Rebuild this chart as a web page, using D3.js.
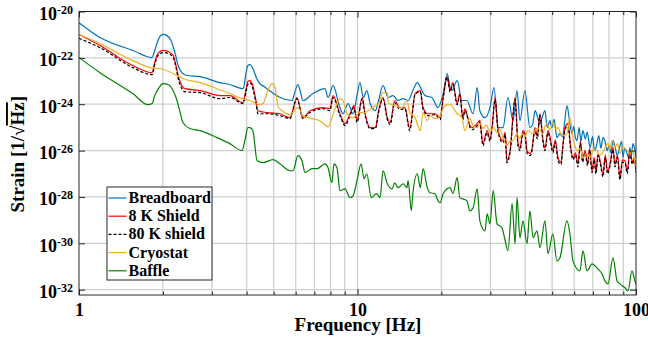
<!DOCTYPE html>
<html><head><meta charset="utf-8">
<script src="https://cdn.jsdelivr.net/npm/d3@7"></script>
<style>
html,body{margin:0;padding:0;background:#fff;}
svg{display:block;font-family:"Liberation Serif","Times New Roman",serif;font-weight:bold;}
</style></head><body>
<svg id="chart" width="648" height="343"></svg>
<script>
// Amplitude spectral densities: [frequency in Hz, log10 strain in 1/sqrt(Hz)]
const breadboard = [
  [1.00,-20.48],[1.19,-21.12],[1.56,-21.68],[1.83,-21.99],[1.86,-21.77],[1.91,-21.34],[1.95,-21.08],
  [2.00,-20.99],[2.07,-21.04],[2.14,-21.25],[2.21,-21.77],[2.27,-22.33],[2.34,-22.64],[2.44,-22.76],
  [2.72,-22.81],[3.21,-23.07],[3.48,-23.15],[3.88,-23.33],[3.91,-23.24],[3.98,-22.64],[4.04,-22.33],
  [4.11,-22.29],[4.21,-22.46],[4.32,-22.81],[4.43,-23.07],[4.62,-23.24],[4.73,-23.33],[5.27,-23.71],
  [5.82,-23.84],[5.95,-23.50],[6.11,-23.15],[6.22,-23.40],[6.37,-23.84],[6.92,-23.54],[7.64,-23.33],
  [7.84,-23.71],[8.17,-23.20],[8.65,-24.15],[8.87,-24.41],[9.25,-23.97],[9.64,-24.41],[9.96,-23.63],
  [10.2,-23.07],[10.5,-23.71],[10.8,-23.41],[11.1,-23.97],[11.6,-24.28],[11.9,-23.84],[12.35,-23.20],
  [12.9,-23.71],[13.4,-23.63],[14.0,-23.84],[14.6,-23.76],[15.2,-23.84],[15.8,-23.41],[16.4,-23.07],
  [17.05,-23.41],[17.5,-23.63],[18.5,-23.71],[19.45,-24.15],[20.3,-23.54],[21.0,-22.68],[21.5,-23.28],
  [21.8,-23.41],[22.8,-22.98],[23.7,-23.84],[24.7,-23.84],[26.0,-24.41],[26.9,-23.28],[27.5,-24.28],
  [28.7,-24.58],[29.9,-24.15],[30.9,-23.28],[32.0,-25.01],[33.3,-25.01],[34.7,-23.71],[36.2,-24.71],
  [37.4,-23.41],[38.3,-24.71],[39.9,-23.41],[41.6,-25.01],[42.5,-24.90],[43.4,-24.28],[44.2,-24.50],
  [45.2,-24.84],[46.0,-24.58],[47.1,-24.28],[48.0,-25.00],[49.1,-24.71],[49.9,-25.01],[50.8,-24.65],
  [52.0,-25.44],[53.3,-25.27],[54.5,-25.40],[55.4,-24.80],[56.5,-24.06],[57.9,-24.84],[58.9,-25.27],
  [59.8,-24.95],[60.5,-25.40],[61.4,-25.57],[62.5,-25.00],[63.4,-25.60],[64.5,-25.14],[65.8,-25.50],
  [66.8,-25.20],[68.4,-25.87],[69.8,-25.40],[71.0,-26.00],[72.4,-25.70],[73.5,-25.35],[74.8,-25.90],
  [76.1,-25.44],[77.4,-25.60],[78.7,-26.00],[80.0,-25.80],[81.3,-26.10],[82.7,-25.57],[84.0,-25.80],
  [85.6,-26.20],[87.6,-25.79],[88.8,-25.60],[89.8,-26.31],[91.0,-25.90],[92.9,-26.13],[94.0,-26.30],
  [95.1,-25.87],[96.3,-26.20],[97.5,-25.70],[98.8,-25.90],[100,-26.31]
];
const shield8K = [
  [1.00,-20.99],[1.19,-21.47],[1.56,-22.33],[1.83,-22.64],[1.87,-22.20],[1.92,-21.81],[2.00,-21.68],
  [2.09,-21.73],[2.18,-21.90],[2.23,-22.33],[2.27,-22.76],[2.32,-23.11],[2.40,-23.33],[2.72,-23.41],
  [3.21,-23.63],[3.48,-23.63],[3.88,-23.93],[3.98,-23.33],[4.04,-23.02],[4.11,-22.98],[4.21,-23.20],
  [4.32,-23.84],[4.39,-24.28],[4.73,-24.36],[5.27,-24.41],[5.72,-24.58],[6.06,-23.71],[6.37,-24.58],
  [6.75,-24.28],[7.52,-24.15],[7.96,-24.19],[8.17,-23.63],[8.65,-24.41],[9.02,-24.84],[9.40,-24.41],
  [9.71,-24.06],[9.96,-24.71],[10.4,-23.71],[10.6,-24.28],[11.1,-25.01],[11.6,-25.01],[11.9,-24.28],
  [12.35,-23.71],[12.8,-24.58],[13.1,-24.79],[13.6,-23.84],[14.2,-24.15],[14.8,-24.15],[15.4,-25.05],
  [16.1,-23.54],[16.8,-23.41],[17.2,-24.15],[17.9,-24.41],[19.0,-24.41],[19.8,-24.58],[20.3,-23.71],
  [21.0,-22.81],[21.5,-23.41],[22.0,-23.07],[22.8,-23.97],[23.3,-23.54],[23.9,-24.58],[24.3,-24.20],
  [24.9,-24.58],[25.3,-24.90],[25.8,-25.01],[26.9,-24.84],[27.5,-24.70],[28.2,-25.70],[29.2,-25.14],
  [29.9,-25.50],[30.4,-25.01],[31.2,-23.71],[32.0,-25.14],[33.3,-25.57],[33.9,-25.20],[34.4,-26.44],
  [35.3,-26.00],[36.8,-23.71],[37.7,-25.70],[38.3,-25.90],[39.3,-25.14],[40.0,-25.30],[40.6,-26.00],
  [41.6,-26.13],[42.2,-26.00],[43.4,-25.01],[44.2,-25.40],[45.2,-24.41],[46.4,-25.57],[47.1,-25.90],
  [48.3,-25.14],[49.1,-25.40],[50.3,-26.00],[51.3,-25.55],[52.5,-26.31],[53.8,-26.50],[54.7,-25.70],
  [55.6,-25.01],[57.0,-24.84],[58.2,-25.80],[59.4,-26.31],[60.6,-26.10],[61.9,-26.57],[63.2,-25.60],
  [64.3,-26.40],[65.6,-26.00],[67.0,-26.55],[68.2,-25.90],[69.5,-26.87],[70.8,-26.30],[71.8,-26.90],
  [73.1,-26.13],[74.5,-26.50],[76.1,-27.00],[77.6,-26.20],[79.0,-26.90],[80.7,-26.57],[82.7,-25.87],
  [84.0,-26.60],[85.8,-26.20],[87.6,-27.17],[89.4,-26.40],[91.3,-26.44],[93.0,-26.90],[95.1,-26.00],
  [97.0,-26.50],[98.5,-26.30],[100,-26.87]
];
const shield80K = [
  [1.00,-21.16],[1.19,-21.56],[1.56,-22.42],[1.83,-22.72],[1.87,-22.29],[1.92,-21.90],[2.00,-21.77],
  [2.09,-21.81],[2.18,-21.99],[2.23,-22.42],[2.27,-22.89],[2.32,-23.24],[2.40,-23.46],[2.72,-23.50],
  [3.21,-23.76],[3.48,-23.71],[3.88,-23.97],[3.98,-23.46],[4.04,-23.15],[4.11,-23.07],[4.21,-23.33],
  [4.32,-23.97],[4.39,-24.41],[4.73,-24.41],[5.27,-24.49],[5.72,-24.62],[6.06,-23.76],[6.37,-24.62],
  [6.75,-24.36],[7.52,-24.19],[7.96,-24.28],[8.17,-23.71],[8.65,-24.49],[9.02,-24.92],[9.40,-24.49],
  [9.71,-24.15],[9.96,-24.79],[10.4,-23.76],[10.6,-24.36],[11.1,-25.05],[11.6,-25.05],[11.9,-24.36],
  [12.35,-23.76],[12.8,-24.67],[13.1,-24.88],[13.6,-23.93],[14.2,-24.23],[14.8,-24.19],[15.4,-25.14],
  [16.1,-23.59],[16.8,-23.46],[17.2,-24.23],[17.9,-24.49],[19.0,-24.45],[19.8,-24.67],[20.3,-23.76],
  [21.0,-22.85],[21.5,-23.46],[22.0,-23.15],[22.8,-24.02],[23.3,-23.63],[23.9,-24.67],[24.3,-24.28],
  [24.9,-24.62],[25.3,-24.98],[25.8,-25.10],[26.9,-24.92],[27.5,-24.78],[28.2,-25.79],[29.2,-25.23],
  [29.9,-25.60],[30.4,-25.10],[31.2,-23.80],[32.0,-25.23],[33.3,-25.66],[33.9,-25.30],[34.4,-26.52],
  [35.3,-26.09],[36.8,-23.80],[37.7,-25.79],[38.3,-26.00],[39.3,-25.23],[40.0,-25.38],[40.6,-26.09],
  [41.6,-26.22],[42.2,-26.08],[43.4,-25.10],[44.2,-25.50],[45.2,-24.49],[46.4,-25.66],[47.1,-26.00],
  [48.3,-25.23],[49.1,-25.48],[50.3,-26.09],[51.3,-25.64],[52.5,-26.44],[53.8,-26.60],[54.7,-25.78],
  [55.6,-25.10],[57.0,-24.92],[58.2,-25.90],[59.4,-26.39],[60.6,-26.20],[61.9,-26.70],[63.2,-25.68],
  [64.3,-26.50],[65.6,-26.09],[67.0,-26.65],[68.2,-25.98],[69.5,-26.95],[70.8,-26.40],[71.8,-27.00],
  [73.1,-26.22],[74.5,-26.60],[76.1,-27.13],[77.6,-26.30],[79.0,-27.00],[80.7,-26.65],[82.7,-25.96],
  [84.0,-26.70],[85.8,-26.30],[87.6,-27.26],[89.4,-26.50],[91.3,-26.52],[93.0,-27.00],[95.1,-26.09],
  [97.0,-26.60],[98.5,-26.40],[100,-26.95]
];
const cryostat = [
  [1.00,-20.99],[1.19,-21.38],[1.56,-22.12],[1.80,-22.42],[1.95,-22.46],[2.25,-22.76],[2.36,-22.89],
  [2.72,-23.07],[3.13,-23.33],[3.48,-23.54],[3.85,-23.76],[4.11,-23.84],[4.47,-24.02],[4.58,-23.97],
  [4.77,-23.41],[4.93,-23.11],[5.06,-23.28],[5.18,-24.10],[5.36,-24.28],[5.72,-24.45],[6.11,-24.15],
  [6.37,-24.49],[6.87,-24.62],[7.33,-24.71],[7.84,-24.97],[8.30,-24.19],[8.65,-23.76],[8.87,-23.84],
  [9.17,-24.41],[9.64,-24.58],[10.2,-24.36],[10.6,-24.36],[11.3,-24.15],[11.9,-23.97],[12.35,-23.50],
  [12.8,-23.50],[12.9,-23.93],[13.6,-24.06],[14.45,-24.15],[15.05,-23.84],[15.4,-24.36],[16.1,-24.58],
  [16.8,-25.14],[17.2,-24.36],[17.8,-24.71],[18.2,-24.49],[19.0,-24.62],[19.8,-24.49],[20.6,-24.06],
  [21.5,-24.02],[22.8,-24.41],[23.7,-24.58],[24.3,-25.14],[25.3,-24.62],[26.1,-24.95],[26.9,-25.01],
  [27.6,-24.80],[28.2,-25.05],[29.0,-24.90],[29.9,-25.18],[30.8,-25.00],[31.7,-25.23],[32.5,-25.10],
  [33.3,-25.44],[34.4,-25.79],[35.3,-25.57],[36.2,-25.57],[37.4,-25.27],[38.2,-25.50],[39.0,-25.27],
  [40.0,-25.40],[40.9,-25.14],[42.7,-25.27],[43.8,-25.05],[45.2,-25.10],[46.2,-25.30],[47.1,-24.97],
  [47.9,-24.84],[49.0,-25.10],[50.3,-24.79],[51.4,-25.05],[52.5,-25.01],[53.6,-25.25],[54.7,-25.36],
  [56.5,-25.27],[57.9,-24.58],[59.4,-25.44],[60.4,-25.80],[61.4,-26.00],[63.0,-25.90],[64.5,-26.31],
  [66.5,-26.10],[68.4,-26.31],[70.3,-25.95],[72.4,-26.00],[74.0,-26.20],[75.5,-26.13],[77.3,-25.90],
  [79.3,-25.70],[80.6,-25.95],[82.0,-25.57],[84.1,-25.87],[85.8,-25.70],[87.6,-26.13],[89.8,-25.85],
  [92.9,-26.00],[95.1,-26.13],[97.2,-25.95],[99.1,-26.52],[100,-26.74]
];
const baffle = [
  [1.00,-21.99],[1.19,-22.64],[1.56,-23.54],[1.77,-24.02],[1.83,-23.97],[1.87,-23.63],[1.94,-23.28],
  [2.00,-23.11],[2.09,-23.15],[2.16,-23.33],[2.23,-23.71],[2.29,-24.19],[2.36,-24.79],[2.50,-25.05],
  [2.72,-25.14],[3.13,-25.44],[3.48,-25.70],[3.85,-26.00],[3.94,-25.57],[4.04,-25.01],[4.11,-25.01],
  [4.21,-25.14],[4.36,-26.44],[4.58,-26.52],[4.97,-26.39],[5.27,-26.57],[5.72,-26.87],[5.87,-26.87],
  [6.11,-26.22],[6.32,-26.44],[6.48,-26.95],[6.87,-26.78],[7.16,-26.78],[7.64,-26.57],[7.84,-26.74],
  [8.09,-27.39],[8.23,-26.57],[8.44,-26.74],[8.65,-27.73],[9.02,-27.65],[9.40,-28.03],[9.64,-27.95],
  [9.96,-27.30],[10.3,-26.57],[10.55,-27.21],[10.8,-27.00],[11.2,-28.03],[11.7,-27.86],[12.05,-28.03],
  [12.35,-26.87],[12.8,-27.43],[13.3,-27.65],[13.6,-27.39],[14.0,-27.60],[14.6,-27.43],[15.05,-27.60],
  [15.2,-27.30],[15.6,-28.60],[15.8,-27.86],[16.4,-27.00],[16.8,-27.60],[17.2,-26.78],[17.8,-27.60],
  [18.2,-27.82],[19.0,-27.86],[19.3,-28.08],[19.8,-28.25],[20.3,-27.86],[21.5,-27.60],[22.0,-27.86],
  [22.8,-27.17],[23.3,-28.03],[24.7,-28.16],[25.3,-28.60],[26.0,-28.47],[26.9,-27.65],[27.5,-29.03],
  [28.7,-29.46],[29.2,-28.73],[29.9,-29.16],[30.7,-27.73],[31.7,-29.16],[33.0,-29.33],[33.9,-29.89],
  [34.7,-30.32],[35.9,-28.29],[36.8,-30.02],[37.4,-28.03],[38.3,-29.76],[39.3,-29.03],[40.6,-30.02],
  [41.6,-28.60],[42.7,-29.76],[44.1,-29.46],[45.2,-30.19],[47.1,-29.03],[48.3,-30.45],[50.3,-29.59],
  [52.0,-30.76],[53.3,-30.63],[56.5,-29.03],[57.9,-29.59],[59.4,-30.76],[62.9,-31.19],[64.5,-30.32],
  [66.7,-31.19],[69.5,-30.89],[72.4,-31.06],[75.5,-31.32],[77.4,-31.62],[79.3,-31.75],[82.7,-30.63],
  [85.5,-31.62],[87.6,-31.75],[91.3,-31.92],[93.6,-32.05],[96.7,-31.19],[99.1,-31.62],[100,-31.75]
];

const seriesNames  = ["Breadboard", "8 K Shield", "80 K shield", "Cryostat", "Baffle"];
const seriesData   = [breadboard, shield8K, shield80K, cryostat, baffle];
const seriesColors = ["#0072BD", "#FF0000", "#000000", "#EDB120", "#008000"];
const seriesDash   = [null, null, "3,2", null, null];

const yTickExponents = [-20, -22, -24, -26, -28, -30, -32];
const xTickLabels    = [1, 10, 100];

// ---- layout ----
const box = {left: 79, right: 636, top: 11.5, bottom: 295};
const svg = d3.select("#chart");

const x = d3.scaleLog().domain([1, 100]).range([box.left, box.right]);
const y = d3.scaleLog().domain([Math.pow(10, -32.23), 1e-20]).range([box.bottom, box.top]);

// minor + major frequency positions (1..9, 10..90, 100)
const xAll = [];
[1, 10].forEach(dec => { for (let k = 1; k < 10; k++) xAll.push(dec * k); });
xAll.push(100);
const yTicks = yTickExponents.map(e => Math.pow(10, e));

// ---- grid ----
const grid = svg.append("g").attr("stroke", "#d0d0d0").attr("stroke-width", 1.3);
grid.selectAll("line.gx").data(xAll.filter(v => v > 1 && v < 100)).join("line")
  .attr("x1", d => x(d)).attr("x2", d => x(d)).attr("y1", box.top).attr("y2", box.bottom);
grid.selectAll("line.gy").data(yTicks.filter(v => v < 1e-20)).join("line")
  .attr("x1", box.left).attr("x2", box.right).attr("y1", d => y(d)).attr("y2", d => y(d));

// ---- curves ----
svg.append("clipPath").attr("id", "plotClip").append("rect")
  .attr("x", box.left).attr("y", box.top)
  .attr("width", box.right - box.left).attr("height", box.bottom - box.top);

const line = d3.line()
  .x(d => x(d[0]))
  .y(d => y(Math.pow(10, d[1])))
  .curve(d3.curveMonotoneX);
const curves = svg.append("g").attr("clip-path", "url(#plotClip)");
seriesData.forEach((s, i) => {
  curves.append("path").datum(s)
    .attr("d", line)
    .attr("fill", "none")
    .attr("stroke", seriesColors[i])
    .attr("stroke-width", 1.2)
    .attr("stroke-linejoin", "round")
    .attr("stroke-dasharray", seriesDash[i]);
});

// ---- axes (inward ticks on all four sides) ----
const isMajorX = v => xTickLabels.includes(v);
function styleAxis(g) {
  g.select(".domain").remove();
  g.selectAll(".tick line").attr("stroke", "#262626").attr("stroke-width", 1);
}
const gBottom = svg.append("g").attr("transform", `translate(0,${box.bottom})`)
  .call(d3.axisBottom(x).tickValues(xAll).tickSize(-3.5).tickSizeOuter(0)
    .tickFormat(d => isMajorX(d) ? String(d) : ""))
  .call(styleAxis);
gBottom.selectAll(".tick line").filter(d => isMajorX(d)).attr("y2", -6);
gBottom.selectAll(".tick text")
  .attr("y", 8).attr("font-size", 18).attr("font-family", "Liberation Serif")
  .attr("font-weight", "bold").attr("fill", "#000");

const gTop = svg.append("g").attr("transform", `translate(0,${box.top})`)
  .call(d3.axisTop(x).tickValues(xAll).tickSize(-3.5).tickSizeOuter(0).tickFormat(""))
  .call(styleAxis);
gTop.selectAll(".tick line").filter(d => isMajorX(d)).attr("y2", 6);

const gLeft = svg.append("g").attr("transform", `translate(${box.left},0)`)
  .call(d3.axisLeft(y).tickValues(yTicks).tickSize(-6).tickSizeOuter(0).tickFormat(""))
  .call(styleAxis);
const gRight = svg.append("g").attr("transform", `translate(${box.right},0)`)
  .call(d3.axisRight(y).tickValues(yTicks).tickSize(-6).tickSizeOuter(0).tickFormat(""))
  .call(styleAxis);

// y tick labels as 10^n
gLeft.selectAll(".tick").each(function (d, i) {
  const t = d3.select(this).append("text")
    .attr("x", -6).attr("y", 0).attr("text-anchor", "end")
    .attr("font-family", "Liberation Serif").attr("font-weight", "bold").attr("fill", "#000");
  t.append("tspan").attr("font-size", 18).attr("dy", 8).text("10");
  t.append("tspan").attr("font-size", 12).attr("dy", -6).text(String(yTickExponents[i]));
});

// frame
svg.append("rect")
  .attr("x", box.left).attr("y", box.top)
  .attr("width", box.right - box.left).attr("height", box.bottom - box.top)
  .attr("fill", "none").attr("stroke", "#262626").attr("stroke-width", 1);

// ---- axis titles ----
svg.append("text")
  .attr("x", (box.left + box.right) / 2 + 0.5).attr("y", 330.5)
  .attr("text-anchor", "middle").attr("font-size", 19).attr("fill", "#000")
  .text("Frequency [Hz]");

const yTitle = svg.append("text")
  .attr("transform", `translate(24,${(box.top + box.bottom) / 2 + 1}) rotate(-90)`)
  .attr("text-anchor", "middle").attr("font-size", 19).attr("fill", "#000");
yTitle.append("tspan").text("Strain [1/\u221A");
yTitle.append("tspan").style("text-decoration", "overline").text("Hz");
yTitle.append("tspan").text("]");

// ---- legend ----
const lg = svg.append("g");
const lgBox = {x: 107, y: 187, w: 105, h: 93};
lg.append("rect").attr("x", lgBox.x).attr("y", lgBox.y).attr("width", lgBox.w).attr("height", lgBox.h)
  .attr("fill", "#fff").attr("stroke", "#262626").attr("stroke-width", 1);
seriesNames.forEach((name, i) => {
  const cy = lgBox.y + 11 + i * 18.2;
  lg.append("line").attr("x1", 108.5).attr("x2", 126.5).attr("y1", cy).attr("y2", cy)
    .attr("stroke", seriesColors[i]).attr("stroke-width", 1.2)
    .attr("stroke-dasharray", seriesDash[i]);
  lg.append("text").attr("x", 128.5).attr("y", cy + 5)
    .attr("font-size", 16).attr("fill", "#000").text(name);
});
</script>
</body></html>
